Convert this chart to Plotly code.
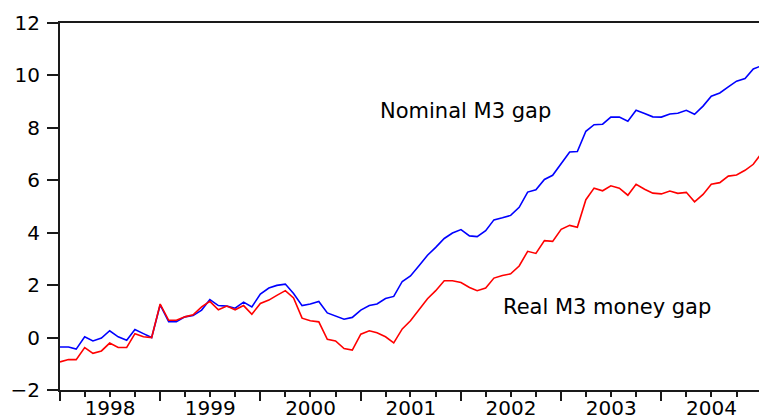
import pandas as pd
import plotly.graph_objects as go

# Monthly observations 1998M01 .. 2005M02
dates = pd.date_range("1998-01-01", periods=86, freq="MS")

nominal_m3_gap = [
    -0.36, -0.36, -0.44, 0.03, -0.13, -0.02, 0.26, 0.03, -0.10, 0.31, 0.15, 0.00,
    1.25, 0.61, 0.61, 0.79, 0.84, 1.05, 1.45, 1.22, 1.20, 1.12, 1.35, 1.17,
    1.66, 1.89, 1.99, 2.04, 1.68, 1.22, 1.28, 1.38, 0.94, 0.82, 0.70, 0.77,
    1.05, 1.22, 1.28, 1.49, 1.57, 2.14, 2.35, 2.74, 3.14, 3.44, 3.78, 3.99,
    4.12, 3.88, 3.85, 4.08, 4.49, 4.57, 4.66, 4.97, 5.55, 5.64, 6.03, 6.19,
    6.63, 7.08, 7.10, 7.87, 8.12, 8.14, 8.41, 8.41, 8.25, 8.67, 8.55, 8.42,
    8.41, 8.53, 8.56, 8.67, 8.52, 8.83, 9.21, 9.33, 9.56, 9.78, 9.88, 10.25,
    10.37, 10.38,
]

real_m3_money_gap = [
    -0.93, -0.84, -0.84, -0.38, -0.60, -0.51, -0.21, -0.38, -0.38, 0.15, 0.03, 0.00,
    1.28, 0.66, 0.66, 0.79, 0.87, 1.17, 1.38, 1.06, 1.20, 1.06, 1.22, 0.89,
    1.30, 1.43, 1.61, 1.79, 1.51, 0.74, 0.64, 0.60, -0.07, -0.13, -0.42, -0.48,
    0.13, 0.26, 0.18, 0.03, -0.20, 0.33, 0.64, 1.07, 1.48, 1.79, 2.17, 2.17,
    2.10, 1.91, 1.79, 1.89, 2.27, 2.37, 2.43, 2.73, 3.29, 3.21, 3.70, 3.67,
    4.13, 4.28, 4.21, 5.26, 5.70, 5.60, 5.79, 5.70, 5.43, 5.85, 5.66, 5.51,
    5.48, 5.59, 5.50, 5.54, 5.18, 5.46, 5.85, 5.91, 6.16, 6.20, 6.38, 6.61,
    7.05, 6.85,
]

y_ticks = [-2, 0, 2, 4, 6, 8, 10, 12]

FONT = "DejaVu Sans"
AXIS = "#1a1a1a"

fig = go.Figure()
fig.add_trace(go.Scatter(x=dates, y=nominal_m3_gap, mode="lines",
                         line=dict(color="#0000FF", width=1.6), name="Nominal M3 gap"))
fig.add_trace(go.Scatter(x=dates, y=real_m3_money_gap, mode="lines",
                         line=dict(color="#FF0000", width=1.6), name="Real M3 money gap"))

fig.add_annotation(x="2002-01-18", y=8.63, text="Nominal M3 gap", showarrow=False,
                   font=dict(family=FONT, size=21, color="black"))
fig.add_annotation(x="2003-06-17", y=1.15, text="Real M3 money gap", showarrow=False,
                   font=dict(family=FONT, size=21, color="black"))

# The page body adds an 8 px offset; the figure is sized so the plot lands where the reference has it.
fig.update_layout(
    width=759, height=412,
    margin=dict(l=52, r=0, t=15, b=30, autoexpand=False),
    paper_bgcolor="white", plot_bgcolor="white",
    showlegend=False,
    xaxis=dict(
        type="date", range=["1998-01-01", "2005-01-20"], automargin=False,
        tick0="1998-01-01", dtick="M12", tickformat="%Y", ticklabelmode="period",
        ticks="outside", ticklen=9, tickwidth=1.5, tickcolor=AXIS,
        ticklabelstandoff=-10,
        showline=True, linewidth=2, linecolor=AXIS, mirror=True,
        showgrid=False, zeroline=False,
        tickfont=dict(family=FONT, size=20, color="black"),
        minor=dict(dtick="M3", tick0="1998-01-01", ticks="outside", ticklen=5,
                   tickwidth=1.5, tickcolor=AXIS, showgrid=False),
    ),
    yaxis=dict(
        range=[-2, 12], tickvals=y_ticks, automargin=False,
        ticks="outside", ticklen=11, tickwidth=1.5, tickcolor=AXIS,
        ticklabelstandoff=3,
        showline=True, linewidth=2, linecolor=AXIS, mirror=False,
        showgrid=False, zeroline=False,
        tickfont=dict(family=FONT, size=20, color="black"),
    ),
)

fig.write_html("out.html")
